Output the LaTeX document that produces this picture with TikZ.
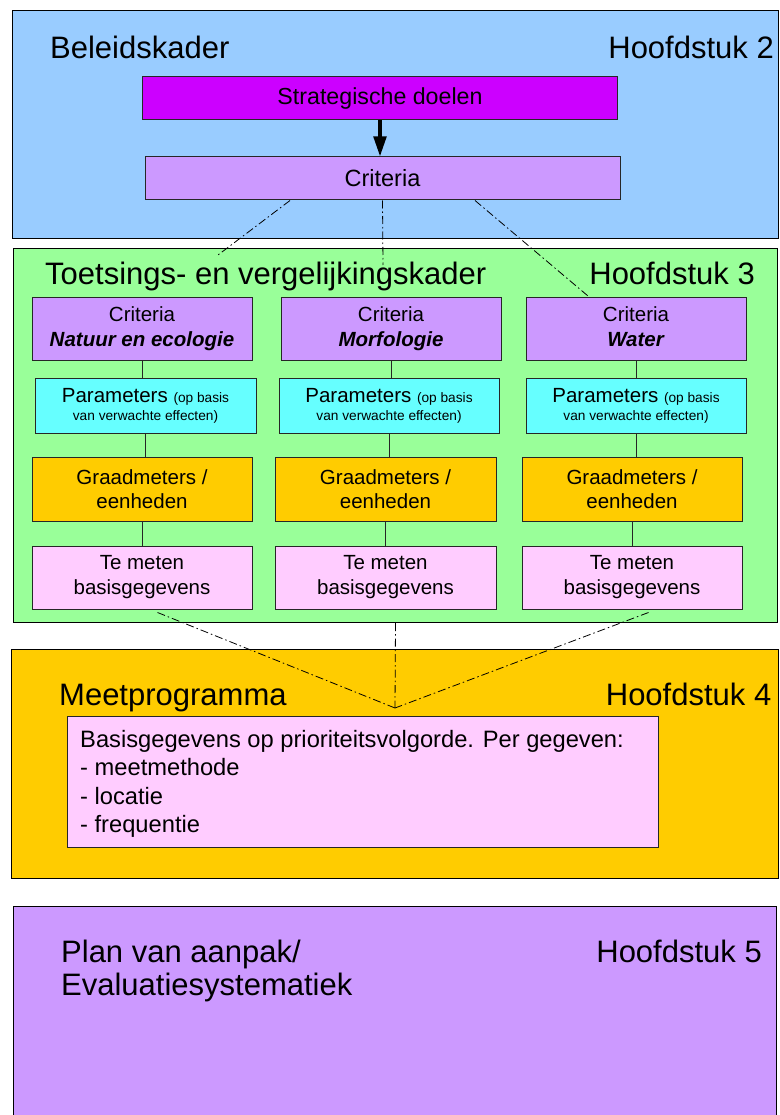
\documentclass[tikz,border=0pt]{standalone}
\usepackage{fontspec}
\setmainfont{Liberation Sans}
\usetikzlibrary{arrows.meta}

\definecolor{blauw}{HTML}{99CCFF}
\definecolor{groen}{HTML}{99FF99}
\definecolor{oranje}{HTML}{FFCC00}
\definecolor{paars}{HTML}{CC99FF}
\definecolor{magenta}{HTML}{CC00FF}
\definecolor{cyaan}{HTML}{66FFFF}
\definecolor{roze}{HTML}{FFCCFF}

\begin{document}
\begin{tikzpicture}[x=1pt,y=-1pt,
  outer/.style={draw=black, line width=1pt, inner sep=0pt, anchor=north west},
  box/.style={draw=black!85, line width=1pt, inner sep=0pt, align=center},
  colbox/.style={box, minimum width=220pt},
  title/.style={font=\fontsize{31}{33}\selectfont, inner sep=0pt},
  coltext/.style={font=\fontsize{20.5}{25}\selectfont},
  link/.style={draw=black!85, line width=0.9pt},
  dashdot/.style={draw=black, line width=0.8pt,
    dash pattern=on 8pt off 3pt on 1.5pt off 3pt}
]
\useasboundingbox (0,0) rectangle (779,1115);
\clip (0,0) rectangle (779,1115);

% chapter frames
\node[outer, fill=blauw,  minimum width=766pt, minimum height=228pt] (beleid) at (12,10) {};
\node[outer, fill=groen,  minimum width=764pt, minimum height=374pt] (toets)  at (13,248) {};
\node[outer, fill=oranje, minimum width=767pt, minimum height=229pt] (meet)   at (11,649) {};
\node[outer, fill=paars,  minimum width=763.5pt, minimum height=240pt] (plan) at (12.5,906) {};

% chapter titles
\node[title, anchor=base west] (t2l) at (50,59) {Beleidskader};
\node[title, anchor=base east] (t2r) at (774,59) {Hoofdstuk 2};
\node[title, anchor=base west] (t3l) at (45,284) {Toetsings- en vergelijkingskader};
\node[title, anchor=base east] (t3r) at (755,284) {Hoofdstuk 3};
\node[title, anchor=base west] (t4l) at (59,705) {Meetprogramma};
\node[title, anchor=base east] (t4r) at (771.5,705) {Hoofdstuk 4};
\node[title, anchor=north west, align=left] (t5l) at (61,939.5)
  {Plan van aanpak/\\Evaluatiesystematiek};
\node[title, anchor=base east] (t5r) at (762,962) {Hoofdstuk 5};

% policy framework
\node[box, fill=magenta, minimum width=475pt, minimum height=43pt,
      font=\fontsize{23.2}{28}\selectfont] (strat) at (380,98.5) {Strategische doelen};
\node[box, fill=paars, minimum width=475pt, minimum height=43pt,
      font=\fontsize{23.5}{28}\selectfont] (crit) at (382.5,178.5) {Criteria};
\draw[line width=3.5pt, -{Triangle[length=20pt,width=12.5pt]}]
  (strat.south) -- (strat.south |- crit.north);

% dash-dotted links from the criteria into the assessment frame
\coordinate (d1) at (218,255);
\coordinate (d2) at (383,265);
\coordinate (d3) at (588,296);
\draw[dashdot] ([xshift=-92.5pt]crit.south) -- (d1);
\draw[dashdot] (crit.south) -- (d2);
\draw[dashdot] ([xshift=92.5pt]crit.south) -- (d3);

% assessment columns
\node[colbox, fill=paars, minimum height=63pt, coltext] (c1crit) at (142,328.5)
  {Criteria\\\textbf{\textit{Natuur en ecologie}}};
\node[colbox, fill=paars, minimum height=63pt, coltext] (c2crit) at (391,328.5)
  {Criteria\\\textbf{\textit{Morfologie}}};
\node[colbox, fill=paars, minimum height=63pt, coltext] (c3crit) at (636,328.5)
  {Criteria\\\textbf{\textit{Water}}\vphantom{g}};

\node[colbox, fill=cyaan, minimum width=221pt, minimum height=55pt,
      font=\fontsize{20.5}{18}\selectfont] (c1par) at (145.5,405.5)
  {Parameters {\fontsize{13.7}{18}\selectfont (op basis}\\{\fontsize{13.7}{18}\selectfont van verwachte effecten)}};
\node[colbox, fill=cyaan, minimum height=55pt,
      font=\fontsize{20.5}{18}\selectfont] (c2par) at (389,405.5)
  {Parameters {\fontsize{13.7}{18}\selectfont (op basis}\\{\fontsize{13.7}{18}\selectfont van verwachte effecten)}};
\node[colbox, fill=cyaan, minimum height=55pt,
      font=\fontsize{20.5}{18}\selectfont] (c3par) at (636,405.5)
  {Parameters {\fontsize{13.7}{18}\selectfont (op basis}\\{\fontsize{13.7}{18}\selectfont van verwachte effecten)}};

\node[colbox, fill=oranje, minimum height=64pt, font=\fontsize{20.5}{24}\selectfont] (c1gra) at (142,489)
  {Graadmeters /\\eenheden};
\node[colbox, fill=oranje, minimum width=221pt, minimum height=64pt, font=\fontsize{20.5}{24}\selectfont] (c2gra) at (385.5,489)
  {Graadmeters /\\eenheden};
\node[colbox, fill=oranje, minimum height=64pt, font=\fontsize{20.5}{24}\selectfont] (c3gra) at (632,489)
  {Graadmeters /\\eenheden};

\node[colbox, fill=roze, minimum height=63pt, coltext] (c1mee) at (142,577.5)
  {Te meten\\basisgegevens};
\node[colbox, fill=roze, minimum width=221pt, minimum height=63pt, coltext] (c2mee) at (385.5,577.5)
  {Te meten\\basisgegevens};
\node[colbox, fill=roze, minimum height=63pt, coltext] (c3mee) at (632,577.5)
  {Te meten\\basisgegevens};

% vertical links inside each column
\foreach \c in {c1,c2,c3}{
  \draw[link] (\c crit.south) -- (\c crit.south |- \c par.north);
  \draw[link] (\c par.south) -- (\c par.south |- \c gra.north);
  \draw[link] (\c gra.south) -- (\c gra.south |- \c mee.north);
}

% dash-dotted links into the measuring programme
\coordinate (m0) at (395,708);
\draw[dashdot] ([xshift=15.5pt,yshift=-3pt]c1mee.south) -- (m0);
\draw[dashdot] (toets.south) -- (m0);
\draw[dashdot] ([xshift=16.5pt,yshift=-3pt]c3mee.south) -- (m0);

% measuring programme
\node[box, fill=roze, anchor=north west, minimum width=591.5pt, minimum height=131pt] (basis) at (66.5,716) {};
\node[anchor=north west, inner sep=0pt, align=left,
      font=\fontsize{23.7}{28.5}\selectfont] (basistxt) at (80,730)
  {Basisgegevens op prioriteitsvolgorde. Per gegeven:\\- meetmethode\\- locatie\\- frequentie};
\end{tikzpicture}
\end{document}
